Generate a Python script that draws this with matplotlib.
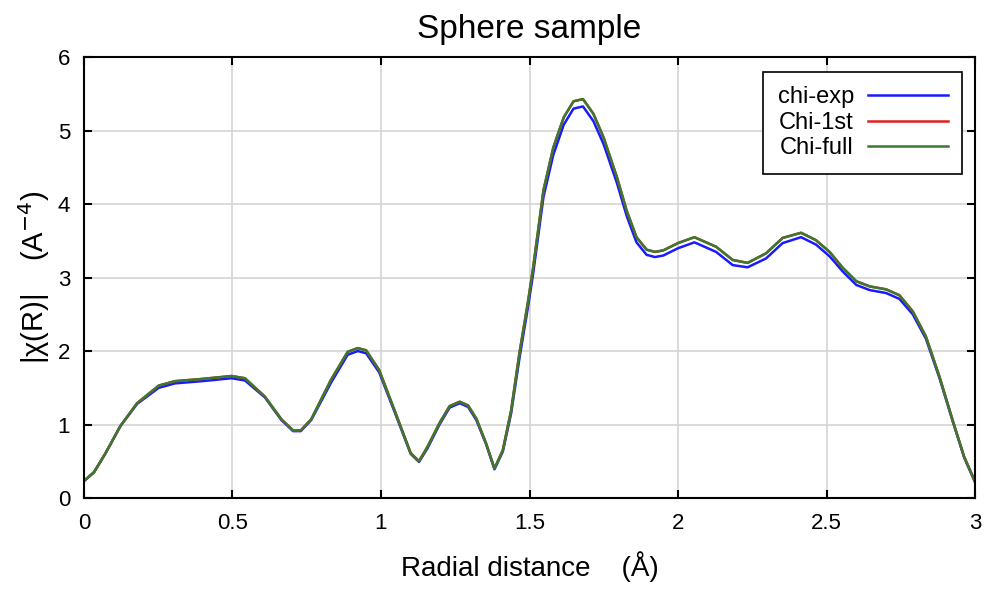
import matplotlib.pyplot as plt

plt.rcParams['font.family'] = ['Liberation Sans', 'DejaVu Sans']

r = [0.000, 0.034, 0.073, 0.123, 0.179, 0.252, 0.307, 0.397, 0.497, 0.542,
     0.609, 0.665, 0.704, 0.730, 0.765, 0.832, 0.888, 0.922, 0.950, 0.994,
     1.045, 1.100, 1.128, 1.157, 1.197, 1.231, 1.265, 1.293, 1.321, 1.354,
     1.382, 1.410, 1.438, 1.466, 1.494, 1.511, 1.547, 1.580, 1.615, 1.648,
     1.680, 1.715, 1.749, 1.794, 1.827, 1.860, 1.894, 1.922, 1.950, 2.000,
     2.055, 2.128, 2.184, 2.234, 2.296, 2.352, 2.414, 2.464, 2.510, 2.555,
     2.600, 2.645, 2.700, 2.745, 2.790, 2.834, 2.880, 2.924, 2.963, 3.000]

chi_full = [0.23, 0.35, 0.61, 0.98, 1.29, 1.53, 1.59, 1.62, 1.66, 1.63,
            1.38, 1.07, 0.92, 0.92, 1.07, 1.61, 1.99, 2.04, 2.01, 1.74,
            1.20, 0.61, 0.50, 0.70, 1.02, 1.25, 1.31, 1.26, 1.08, 0.74,
            0.40, 0.65, 1.19, 1.97, 2.65, 3.10, 4.19, 4.77, 5.18, 5.40,
            5.43, 5.23, 4.91, 4.37, 3.91, 3.55, 3.38, 3.35, 3.37, 3.47,
            3.55, 3.42, 3.24, 3.20, 3.33, 3.54, 3.61, 3.51, 3.35, 3.13,
            2.95, 2.88, 2.84, 2.76, 2.54, 2.20, 1.65, 1.06, 0.56, 0.22]

chi_1st = [0.23, 0.35, 0.61, 0.98, 1.29, 1.53, 1.59, 1.62, 1.66, 1.63,
           1.38, 1.07, 0.92, 0.92, 1.07, 1.61, 1.99, 2.04, 2.01, 1.74,
           1.20, 0.61, 0.50, 0.70, 1.02, 1.25, 1.31, 1.26, 1.08, 0.74,
           0.40, 0.65, 1.19, 1.97, 2.65, 3.10, 4.19, 4.77, 5.18, 5.40,
           5.43, 5.23, 4.91, 4.37, 3.91, 3.55, 3.38, 3.35, 3.37, 3.47,
           3.55, 3.42, 3.24, 3.20, 3.33, 3.54, 3.61, 3.51, 3.35, 3.13,
           2.95, 2.88, 2.84, 2.76, 2.54, 2.20, 1.65, 1.06, 0.56, 0.22]

chi_exp = [0.23, 0.35, 0.61, 0.98, 1.28, 1.50, 1.56, 1.59, 1.63, 1.60,
           1.37, 1.06, 0.91, 0.91, 1.06, 1.57, 1.95, 2.00, 1.97, 1.71,
           1.18, 0.60, 0.49, 0.68, 1.00, 1.23, 1.29, 1.24, 1.06, 0.73,
           0.39, 0.63, 1.15, 1.90, 2.58, 3.02, 4.10, 4.67, 5.08, 5.30,
           5.33, 5.13, 4.82, 4.29, 3.84, 3.48, 3.31, 3.28, 3.30, 3.40,
           3.48, 3.35, 3.17, 3.14, 3.26, 3.47, 3.55, 3.45, 3.29, 3.08,
           2.90, 2.83, 2.79, 2.71, 2.50, 2.17, 1.63, 1.05, 0.55, 0.21]

fig = plt.figure(figsize=(9.87, 5.90), dpi=100)
ax = fig.add_axes([0.085, 0.156, 0.903, 0.747])

ax.plot(r, chi_exp, color='#1a1aff', lw=1.8, label='chi-exp')
ax.plot(r, chi_1st, color='#e02020', lw=1.8, label='Chi-1st')
ax.plot(r, chi_full, color='#3a7a30', lw=1.8, label='Chi-full')

ax.set_xlim(0, 3)
ax.set_ylim(0, 6)
ax.set_xticks([0, 0.5, 1, 1.5, 2, 2.5, 3])
ax.set_xticklabels(['0', '0.5', '1', '1.5', '2', '2.5', '3'])
ax.set_yticks([0, 1, 2, 3, 4, 5, 6])
ax.grid(True, color='#d4d4d4', lw=1.2)
ax.set_axisbelow(True)
ax.tick_params(direction='in', length=6, width=1.5, top=True, right=True,
               labelsize=16)
ax.tick_params(axis='x', pad=11)
ax.tick_params(axis='y', pad=10)
for s in ax.spines.values():
    s.set_linewidth(1.5)

ax.set_title('Sphere sample', fontsize=24, pad=14)
ax.set_xlabel('Radial distance    (Å)', fontsize=20, labelpad=12)
ax.set_ylabel('|χ(R)|    (A$^{-4}$)', fontsize=21, labelpad=4)

leg = ax.legend(loc='upper right', markerfirst=False, fontsize=17,
                fancybox=False, framealpha=1, edgecolor='black',
                handlelength=3.4, borderpad=0.6, labelspacing=0.15,
                handletextpad=0.6, bbox_to_anchor=(0.999, 0.993))
leg.get_frame().set_linewidth(1.2)
for t in leg.get_texts():
    t.set_ha('right')

fig.savefig('out.png', dpi=100)
